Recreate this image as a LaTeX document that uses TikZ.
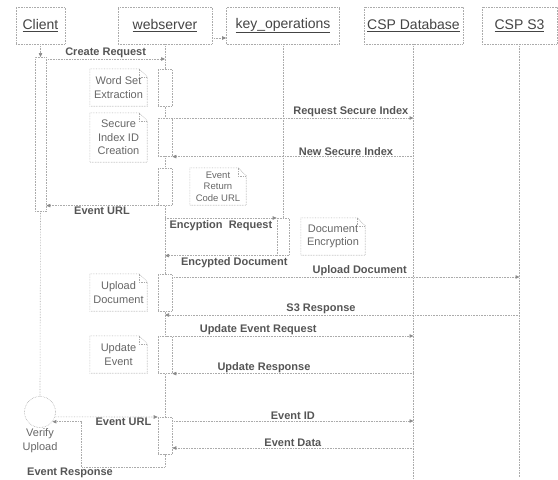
\documentclass[tikz,border=0pt]{standalone}
\usepackage{fontspec}
\setmainfont{Liberation Sans}
\usetikzlibrary{arrows.meta,positioning,backgrounds}

\definecolor{seqline}{HTML}{ABABAB}
\definecolor{seqtip}{HTML}{8A8A8A}
\definecolor{seqtext}{HTML}{555555}
\definecolor{seqnote}{HTML}{666666}
\definecolor{seqhead}{HTML}{444444}

\tikzset{
  seq/.style={draw=seqline, densely dotted, line width=0.6pt},
  head/.style={seq, minimum height=37pt, inner sep=0pt, text=seqhead,
    font=\fontsize{14}{16}\selectfont},
  bar/.style={seq, fill=white, minimum width=14pt, inner sep=0pt, anchor=north},
  note/.style={minimum height=37pt, inner sep=0pt, align=center, text=seqnote,
    font=\fontsize{11}{13.3}\selectfont},
  msg/.style={seq, -{Triangle[length=4pt,width=3.5pt,color=seqtip]}},
  lbl/.style={text=seqtext, inner sep=1pt, font=\fontsize{11}{13}\selectfont\bfseries},
}

\begin{document}
\begin{tikzpicture}[x=1pt,y=-1pt]
\useasboundingbox (0,0) rectangle (558,480);

% participants
\node[head, minimum width=49pt] (client) at (40.5,25.5) {\underline{Client}};
\node[head, minimum width=94pt] (websrv) at (165,25.5) {\underline{webserver}};
\node[head, minimum width=113pt] (keyops) at (283,25.5) {\underline{key\_operations}};
\node[head, minimum width=99pt] (cspdb) at (413.5,25.5) {\underline{CSP Database}};
\node[head, minimum width=75pt] (csps3) at (519.5,25.5) {\underline{CSP S3}};

% activation bars
\node[bar, minimum width=11pt, minimum height=154pt] (clbar) at (40.5,57) {};
\node[bar, minimum height=37pt] (ws1) at (165,69) {};
\node[bar, minimum height=38pt] (ws2) at (165,118) {};
\node[bar, minimum height=37pt] (ws3) at (165,168) {};
\node[bar, minimum width=12pt, minimum height=37pt] (kobar) at (283,218) {};
\node[bar, minimum height=37pt] (ws4) at (165,274) {};
\node[bar, minimum height=37pt] (ws5) at (165,336) {};
\node[bar, minimum height=37pt] (ws6) at (165,417) {};

\node[seq, circle, minimum size=31pt, inner sep=0pt] (verify) at (40,412) {};
\node[note, minimum height=0pt, below=1pt of verify] (vlbl) {Verify\\Upload};

% lifelines, behind the bars
\coordinate (wsend) at (165,467);
\begin{scope}[on background layer]
\draw[seq] (websrv.south) -- (ws6.south);
\draw[seq] (keyops.south) -- (kobar.north);
\draw[seq] (cspdb.south) -- ++(0,434);
\draw[seq] (csps3.south) -- ++(0,433);
\draw[seq] (clbar.south) -- (verify.north);
\end{scope}
\draw[msg] (client.south) -- (clbar.north);
\draw[msg] ([yshift=-12.5pt]websrv.east) -- ([yshift=-12.5pt]keyops.west);

% notes
\node[note, minimum width=57pt] (nword) at (118.5,87.5) {Word Set\\Extraction};
\node[note, minimum width=57pt, minimum height=49pt] (nsec) at (118.5,137.5) {Secure\\Index ID\\Creation};
\node[note, minimum width=56pt, font=\fontsize{9.5}{11.5}\selectfont] (nevt) at (218,186.5) {Event\\Return\\Code URL};
\node[note, minimum width=64pt] (ndoc) at (333,236.5) {Document\\Encryption};
\node[note, minimum width=57pt] (nupl) at (118.5,292.5) {Upload\\Document};
\node[note, minimum width=57pt] (nupd) at (118.5,354.5) {Update\\Event};
\foreach \n in {nword,nsec,nevt,ndoc,nupl,nupd}
{
\draw[seq] (\n.north west) -- ([xshift=-8pt]\n.north east) -- ([yshift=-8pt]\n.north east)
  -- (\n.south east) -- (\n.south west) -- cycle;
\draw[seq] ([xshift=-8pt]\n.north east) |- ([yshift=-8pt]\n.north east);
}

% messages
\coordinate (crq) at (0,59);
\coordinate (upl) at (0,277);
\coordinate (s3r) at (0,315);
\coordinate (eid) at (0,421);
\coordinate (edt) at (0,448);
\coordinate (eback) at ([xshift=29pt]verify.-38);

\draw[msg] (clbar.east |- crq) -- node[lbl, above] {Create Request} (websrv |- crq);
\draw[msg] (ws2.north east) -- node[lbl, above, pos=0.74] {Request Secure Index} (cspdb |- ws2.north);
\draw[msg] (cspdb |- ws2.south) -- node[lbl, above, pos=0.28] {New Secure Index} (ws2.south east);
\draw[msg] (ws3.south west) -- node[lbl, below] {Event URL} (clbar.east |- ws3.south);
\draw[msg] (websrv |- kobar.north) -- node[lbl, below=1pt] {Encyption\ \ Request} (kobar.north west);
\draw[msg] (kobar.south west) -- node[lbl, below=1pt, pos=0.38] {Encypted Document} (websrv |- kobar.south);
\draw[msg] (ws4.east |- upl) -- node[lbl, above, pos=0.54] {Upload Document} (csps3 |- upl);
\draw[msg] (csps3 |- s3r) -- node[lbl, above, pos=0.56] {S3 Response} (websrv |- s3r);
\draw[msg] (websrv |- ws5.north) -- node[lbl, above, pos=0.375] {Update Event Request} (cspdb |- ws5.north);
\draw[msg] (cspdb |- ws5.south) -- node[lbl, above, pos=0.62] {Update Response} (ws5.south east);
\draw[msg] (ws6.east |- eid) -- node[lbl, above] {Event ID} (cspdb |- eid);
\draw[msg] (cspdb |- edt) -- node[lbl, above] {Event Data} (ws6.east |- edt);
\draw[msg] (verify.-18) -- node[lbl, anchor=north east, pos=0.95] {Event URL} (ws6.north west);
\draw[msg] (ws6.south) -- (wsend) -| (eback) -- (verify.-38);
\node[lbl, anchor=north] (eresp) at (70,467) {Event Response};
\end{tikzpicture}
\end{document}
